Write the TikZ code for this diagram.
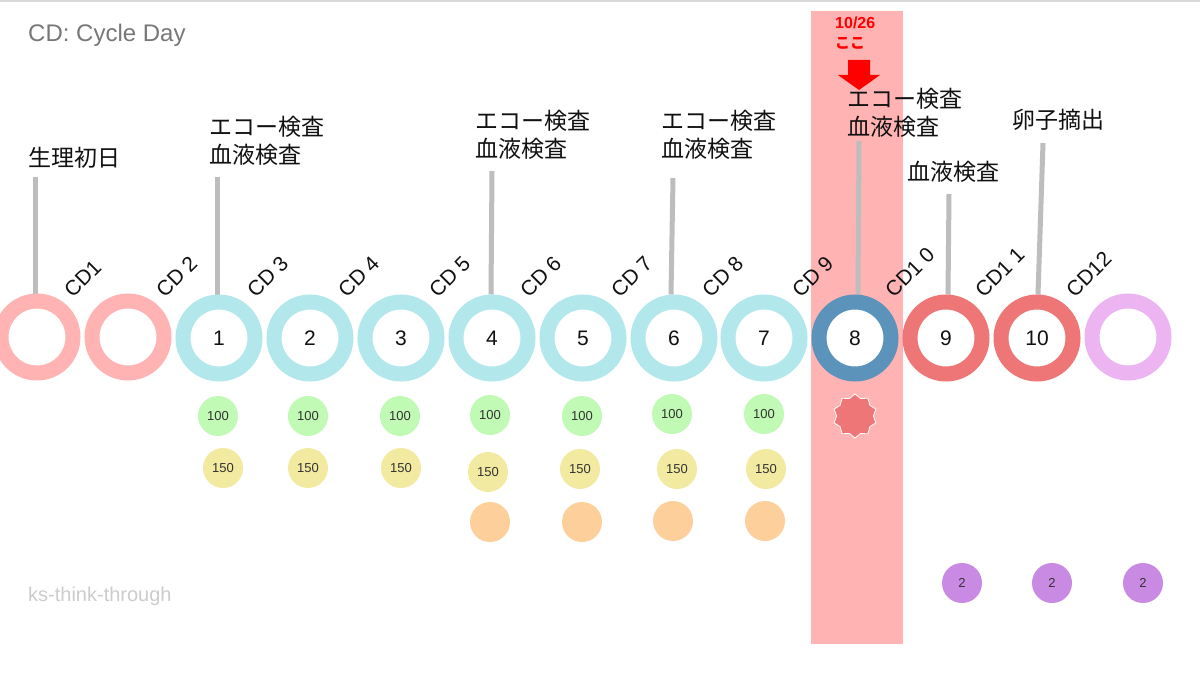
\documentclass[tikz,border=0pt]{standalone}
\usepackage{fontspec}
\setmainfont{Liberation Sans}
\newfontfamily\cjk{Noto Sans CJK JP}
\usetikzlibrary{shapes.geometric,backgrounds}
\definecolor{ringpink}{HTML}{FFB3B3}
\definecolor{ringcyan}{HTML}{B2E8EC}
\definecolor{ringblue}{HTML}{5B93BA}
\definecolor{ringred}{HTML}{EE7676}
\definecolor{ringlilac}{HTML}{ECB5F2}
\definecolor{hlpink}{HTML}{FFB3B3}
\definecolor{dotgreen}{HTML}{C0FAB4}
\definecolor{dotyellow}{HTML}{F2EAA0}
\definecolor{dotorange}{HTML}{FDD09B}
\definecolor{dotpurple}{HTML}{C98AE3}
\definecolor{linegray}{HTML}{BDBDBD}
\definecolor{titlegray}{HTML}{777777}
\definecolor{wmgray}{HTML}{CCCCCC}
\definecolor{txt}{HTML}{111111}
\definecolor{dottxt}{HTML}{333333}
\definecolor{topline}{HTML}{D9D9D9}
\tikzset{
  ring/.style={circle, draw=#1, fill=white, line width=15pt, minimum size=72pt, inner sep=0pt,
    font=\fontsize{21}{21}\selectfont, text=txt},
  cdlabel/.style={rotate=45, anchor=south west, inner sep=0pt,
    font=\fontsize{21}{21}\selectfont, text=txt},
  evlabel/.style={anchor=west, align=left, inner sep=0pt,
    font=\cjk\fontsize{23}{28}\selectfont, text=txt},
  dot/.style={circle, fill=#1, minimum size=40pt, inner sep=0pt,
    font=\fontsize{13}{13}\selectfont, text=dottxt},
  leader/.style={draw=linegray, line width=5pt}
}
\begin{document}
\begin{tikzpicture}[x=1pt,y=-1pt]
\useasboundingbox (0,0) rectangle (1200,685);

% rings
\node[ring=ringpink]  (r1)  at (37,337)   {};
\node[ring=ringpink]  (r2)  at (128,337)  {};
\node[ring=ringcyan]  (r3)  at (219,338)  {1};
\node[ring=ringcyan]  (r4)  at (310,338)  {2};
\node[ring=ringcyan]  (r5)  at (401,338)  {3};
\node[ring=ringcyan]  (r6)  at (492,338)  {4};
\node[ring=ringcyan]  (r7)  at (583,338)  {5};
\node[ring=ringcyan]  (r8)  at (674,338)  {6};
\node[ring=ringcyan]  (r9)  at (764,338)  {7};
\node[ring=ringblue]  (r10) at (855,338)  {8};
\node[ring=ringred]   (r11) at (946,338)  {9};
\node[ring=ringred]   (r12) at (1037,338) {10};
\node[ring=ringlilac] (r13) at (1128,337) {};

% CD labels
\node[cdlabel] (c1)  at (73,299)   {CD1};
\node[cdlabel] (c2)  at (165,299)  {CD 2};
\node[cdlabel] (c3)  at (256,299)  {CD 3};
\node[cdlabel] (c4)  at (347,299)  {CD 4};
\node[cdlabel] (c5)  at (438,299)  {CD 5};
\node[cdlabel] (c6)  at (529,299)  {CD 6};
\node[cdlabel] (c7)  at (620,299)  {CD 7};
\node[cdlabel] (c8)  at (711,299)  {CD 8};
\node[cdlabel] (c9)  at (801,299)  {CD 9};
\node[cdlabel] (c10) at (894,299)  {CD1 0};
\node[cdlabel] (c11) at (984,299)  {CD1 1};
\node[cdlabel] (c12) at (1075,299) {CD12};

% event labels
\node[evlabel] (e1)  at (28,158)    {生理初日};
\node[evlabel] (e3)  at (209,141)   {エコー検査\\血液検査};
\node[evlabel] (e6)  at (475,134.5) {エコー検査\\血液検査};
\node[evlabel] (e8)  at (661,134.5) {エコー検査\\血液検査};
\node[evlabel] (e10) at (847,113)   {エコー検査\\血液検査};
\node[evlabel] (e11) at (907,172)   {血液検査};
\node[evlabel] (e12) at (1012,120)  {卵子摘出};

% leader tops
\coordinate (t1)  at (35,177);
\coordinate (t3)  at (217,177);
\coordinate (t6)  at (492,171);
\coordinate (t8)  at (673,178);
\coordinate (t10) at (859,141);
\coordinate (t11) at (949,194);
\coordinate (t12) at (1043,143);

\begin{pgfonlayer}{background}
  \fill[white] (0,0) rectangle (1200,685);
  \draw[topline, line width=2pt] (0,1) -- (1200,1);
  \fill[hlpink] (811,11) rectangle (903,644);
  \draw[leader] (t1)  -- ([xshift=-2pt]r1.north);
  \draw[leader] (t3)  -- ([xshift=-2pt]r3.north);
  \draw[leader] (t6)  -- ([xshift=-1pt]r6.north);
  \draw[leader] (t8)  -- ([xshift=-3pt]r8.north);
  \draw[leader] (t10) -- ([xshift=3pt]r10.north);
  \draw[leader] (t11) -- ([xshift=2pt]r11.north);
  \draw[leader] (t12) -- ([xshift=1pt]r12.north);
\end{pgfonlayer}

% today marker
\node[text=red, font=\bfseries\fontsize{16}{16}\selectfont, anchor=west, inner sep=0pt] (d1) at (835,23) {10/26};
\node[text=red, font=\cjk\bfseries\fontsize{15}{15}\selectfont, anchor=west, inner sep=0pt] (d2) at (835,43) {ここ};
\fill[red] (848,60) -- (870,60) -- (870,75) -- (880,75) -- (859,90) -- (838,75) -- (848,75) -- cycle;

% dosage dots
\node[dot=dotgreen] (g3) at (218,416) {100};
\node[dot=dotgreen] (g4) at (308,416) {100};
\node[dot=dotgreen] (g5) at (400,416) {100};
\node[dot=dotgreen] (g6) at (490,415) {100};
\node[dot=dotgreen] (g7) at (582,416) {100};
\node[dot=dotgreen] (g8) at (672,414) {100};
\node[dot=dotgreen] (g9) at (764,414) {100};

\node[dot=dotyellow] (y3) at (223,468) {150};
\node[dot=dotyellow] (y4) at (308,468) {150};
\node[dot=dotyellow] (y5) at (401,468) {150};
\node[dot=dotyellow] (y6) at (488,472) {150};
\node[dot=dotyellow] (y7) at (580,469) {150};
\node[dot=dotyellow] (y8) at (677,469) {150};
\node[dot=dotyellow] (y9) at (766,469) {150};

\node[dot=dotorange] (o6) at (490,522) {};
\node[dot=dotorange] (o7) at (582,522) {};
\node[dot=dotorange] (o8) at (673,521) {};
\node[dot=dotorange] (o9) at (765,521) {};

\node[star, star points=10, star point ratio=1.2, minimum size=44pt, inner sep=0pt,
      fill=ringred, draw=white, line width=0.8pt] (s10) at (855,416) {};

\node[dot=dotpurple] (p11) at (962,583)  {2};
\node[dot=dotpurple] (p12) at (1052,583) {2};
\node[dot=dotpurple] (p13) at (1143,583) {2};

% titles
\node[anchor=west, inner sep=0pt, text=titlegray, font=\fontsize{24}{24}\selectfont] (title) at (28,35) {CD: Cycle Day};
\node[anchor=west, inner sep=0pt, text=wmgray, font=\fontsize{20}{20}\selectfont] (wm) at (28,596) {ks-think-through};
\end{tikzpicture}
\end{document}
